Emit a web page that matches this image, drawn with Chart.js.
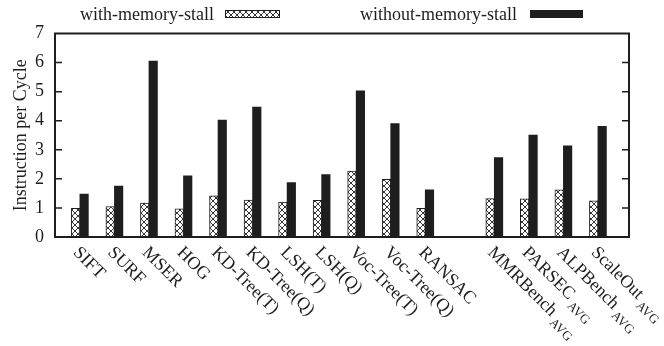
<!DOCTYPE html>
<html>
<head>
<meta charset="utf-8">
<script src="https://cdn.jsdelivr.net/npm/chart.js@4/dist/chart.umd.min.js"></script>
<style>
  html, body { margin: 0; padding: 0; background: #fff; }
  #wrap { width: 664px; height: 346px; position: relative; }
</style>
</head>
<body>
<div id="wrap"><canvas id="ipcChart" width="664" height="346"></canvas></div>
<script>
// slot "" is the empty gap between the vision kernels and the benchmark averages
const labels = ["SIFT", "SURF", "MSER", "HOG", "KD-Tree(T)", "KD-Tree(Q)", "LSH(T)", "LSH(Q)",
    "Voc-Tree(T)", "Voc-Tree(Q)", "RANSAC", "", "MMRBench", "PARSEC", "ALPBench", "ScaleOut"];
const subscripts = ["", "", "", "", "", "", "", "", "", "", "", "", "AVG", "AVG", "AVG", "AVG"];
const withStall = [0.99, 1.05, 1.17, 0.97, 1.42, 1.27, 1.2, 1.26, 2.27, 1.98, 0.99, null, 1.32, 1.31, 1.62, 1.24];
const withoutStall = [1.48, 1.75, 6.05, 2.1, 4.02, 4.47, 1.87, 2.15, 5.03, 3.9, 1.62, null, 2.73, 3.51, 3.14, 3.81];
const seriesNames = ["with-memory-stall", "without-memory-stall"];
const yTicks = [0, 1, 2, 3, 4, 5, 6, 7];

const INK = "#1e1e1e";
const SERIF = "'Liberation Serif', 'Times New Roman', serif";

function hatchPattern() {
    const tile = document.createElement("canvas");
    tile.width = 6; tile.height = 6;
    const t = tile.getContext("2d");
    t.fillStyle = "#fff";
    t.fillRect(0, 0, 6, 6);
    t.strokeStyle = INK;
    t.lineWidth = 0.9;
    t.beginPath();
    t.moveTo(0, 0); t.lineTo(6, 6);
    t.moveTo(6, 0); t.lineTo(0, 6);
    t.stroke();
    return t.createPattern(tile, "repeat");
}
const HATCH = hatchPattern();

const toPoints = arr => arr.map((v, i) => ({ x: i, y: v }));

// frame with inward ticks, legend on top, rotated category labels
const decorations = {
    id: "decorations",
    afterDraw(chart) {
        const { ctx, chartArea: a, scales } = chart;
        ctx.save();
        ctx.strokeStyle = INK;
        ctx.lineWidth = 2;
        ctx.strokeRect(a.left, a.top, a.right - a.left, a.bottom - a.top);
        ctx.lineWidth = 1.5;
        yTicks.slice(1, -1).forEach(v => {
            const y = scales.y.getPixelForValue(v);
            ctx.beginPath();
            ctx.moveTo(a.left, y); ctx.lineTo(a.left + 7, y);
            ctx.moveTo(a.right, y); ctx.lineTo(a.right - 7, y);
            ctx.stroke();
        });

        // legend
        ctx.font = "18px " + SERIF;
        ctx.fillStyle = INK;
        ctx.textBaseline = "middle";
        ctx.textAlign = "left";
        ctx.fillText(seriesNames[0], 80, 15);
        ctx.fillStyle = HATCH;
        ctx.fillRect(225, 10, 55, 8);
        ctx.lineWidth = 1;
        ctx.strokeRect(225.5, 10.5, 54, 7);
        ctx.fillStyle = INK;
        ctx.fillText(seriesNames[1], 360, 15);
        ctx.fillRect(530, 10, 53, 8);

        // x labels, rotated 45deg clockwise
        labels.forEach((lab, i) => {
            if (!lab) return;
            const x = scales.x.getPixelForValue(i);
            ctx.save();
            ctx.translate(x - 4, 250);
            ctx.rotate(Math.PI / 4);
            ctx.font = "18px " + SERIF;
            ctx.textBaseline = "middle";
            ctx.fillText(lab, 0, 0);
            if (subscripts[i]) {
                const w = ctx.measureText(lab).width;
                ctx.font = "13px " + SERIF;
                ctx.fillText(subscripts[i], w + 3, 7);
            }
            ctx.restore();
        });
        ctx.restore();
    }
};

new Chart(document.getElementById("ipcChart"), {
    type: "bar",
    data: {
        datasets: [{
            label: seriesNames[0],
            data: toPoints(withStall),
            backgroundColor: HATCH,
            borderColor: INK,
            borderWidth: 1,
            barThickness: 8.5,
        }, {
            label: seriesNames[1],
            data: toPoints(withoutStall),
            backgroundColor: INK,
            borderColor: INK,
            borderWidth: 0,
            barThickness: 8.5,
        }],
    },
    options: {
        responsive: false,
        animation: false,
        devicePixelRatio: 1,
        layout: { padding: { top: 33.5, right: 35, left: 0, bottom: 0 } },
        plugins: { legend: { display: false }, tooltip: { enabled: false } },
        scales: {
            x: {
                type: "linear",
                offset: false,
                min: -0.72,
                max: 15.9,
                grid: { display: false, drawTicks: false },
                border: { display: false },
                ticks: { display: false },
                afterFit: s => { s.height = 109; },
            },
            y: {
                min: 0,
                max: 7,
                afterBuildTicks: s => { s.ticks = yTicks.map(v => ({ value: v })); },
                grid: { display: false, drawTicks: false },
                border: { display: false },
                ticks: { color: INK, font: { family: SERIF, size: 18 }, padding: 11 },
                title: {
                    display: true,
                    text: "Instruction per Cycle",
                    color: INK,
                    font: { family: SERIF, size: 18 },
                    padding: { top: 10, bottom: 0 },
                },
                afterFit: s => { s.width = 55; },
            },
        },
    },
    plugins: [decorations],
});
</script>
</body>
</html>
